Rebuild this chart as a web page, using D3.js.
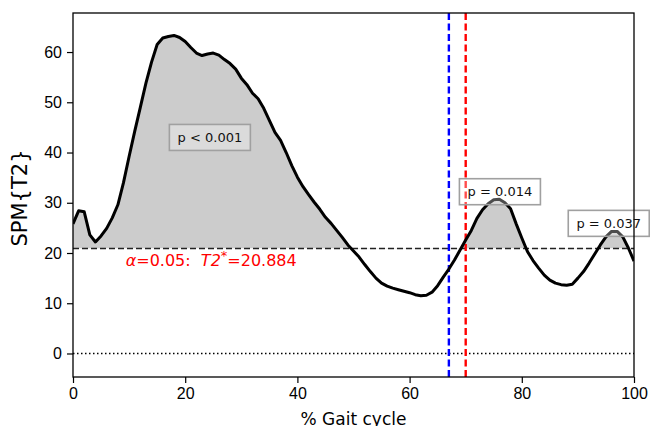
<!DOCTYPE html>
<html>
<head>
<meta charset="utf-8">
<script src="https://cdn.jsdelivr.net/npm/d3@7"></script>
<style>
  body { margin: 0; background: #fff; }
  svg { font-family: "DejaVu Sans", sans-serif; }
  .tick text { font-size: 16px; fill: #000; }
  .tick line { stroke: #000; stroke-width: 1.2; }
</style>
</head>
<body>
<svg class="svg-main" width="650" height="426"></svg>
<script>
// % gait cycle, 0..100 in steps of 1
const gait = d3.range(0, 101);
// SPM{T2} trajectory
const spmT2 = [
  25.8, 28.4, 28.2, 23.6, 22.2, 23.4, 24.9, 27.0, 29.6, 34.0,
  39.2, 44.2, 49.0, 53.8, 58.0, 61.5, 62.8, 63.1, 63.3, 62.9,
  62.1, 60.9, 59.8, 59.3, 59.6, 59.8, 59.4, 58.5, 57.7, 56.6,
  54.8, 53.5, 51.8, 50.7, 48.8, 46.4, 44.0, 42.4, 40.0, 37.4,
  35.1, 33.2, 31.6, 30.1, 28.7, 27.1, 25.9, 24.5, 23.1, 21.6,
  20.4, 19.2, 17.7, 16.3, 15.0, 14.0, 13.4, 13.0, 12.7, 12.4,
  12.1, 11.7, 11.5, 11.6, 12.2, 13.5, 15.2, 16.8, 18.6, 20.6,
  22.6, 24.5, 26.9, 28.6, 29.8, 30.6, 30.7, 30.0, 28.8, 25.8,
  23.0, 20.3, 18.5, 17.0, 15.6, 14.6, 14.0, 13.7, 13.6, 13.8,
  15.0, 16.3, 18.0, 19.8, 21.6, 23.2, 24.3, 24.3, 23.2, 21.0,
  18.4
];
const threshold = 20.884;
const alpha = 0.05;

// cluster p-values and where their labels sit (data units)
const clusterP = ["p < 0.001", "p = 0.014", "p = 0.037"];
const clusterX = [24.4, 76.1, 95.5];
const clusterY = [43.0, 32.2, 25.9];

// vertical event markers
const eventX = [67, 70];
const eventColor = ["#0000ff", "#ff0000"];

const xTicks = [0, 20, 40, 60, 80, 100];
const yTicks = [0, 10, 20, 30, 40, 50, 60];

const svg = d3.select(".svg-main");
const margin = { left: 73, right: 634, top: 13, bottom: 377 };

const x = d3.scaleLinear().domain([0, 100]).range([margin.left, margin.right]);
const y = d3.scaleLinear().domain([-4.68, 67.77]).range([margin.bottom, margin.top]);

const pts = gait.map((g, i) => ({ g: g, v: spmT2[i] }));

// clip so the fill only shows above the threshold
const defs = svg.append("defs");
defs.append("clipPath").attr("id", "above")
  .append("rect")
  .attr("x", margin.left).attr("y", margin.top)
  .attr("width", margin.right - margin.left)
  .attr("height", y(threshold) - margin.top);
defs.append("clipPath").attr("id", "plot")
  .append("rect")
  .attr("x", margin.left).attr("y", margin.top)
  .attr("width", margin.right - margin.left)
  .attr("height", margin.bottom - margin.top);

const area = d3.area()
  .x(d => x(d.g))
  .y0(y(threshold))
  .y1(d => y(d.v));

svg.append("path")
  .datum(pts)
  .attr("clip-path", "url(#above)")
  .attr("fill", "#cccccc")
  .attr("d", area);

// zero line
svg.append("line")
  .attr("x1", x(0)).attr("x2", x(100))
  .attr("y1", y(0)).attr("y2", y(0))
  .attr("stroke", "#000").attr("stroke-width", 1.5)
  .attr("stroke-dasharray", "1.5,2.5");

// threshold line
svg.append("line")
  .attr("x1", x(0)).attr("x2", x(100))
  .attr("y1", y(threshold)).attr("y2", y(threshold))
  .attr("stroke", "#222").attr("stroke-width", 1.6)
  .attr("stroke-dasharray", "6,3");

// event lines
svg.selectAll(".event")
  .data(eventX)
  .enter().append("line")
    .attr("class", "event")
    .attr("x1", d => x(d)).attr("x2", d => x(d))
    .attr("y1", margin.top).attr("y2", margin.bottom)
    .attr("stroke", (d, i) => eventColor[i])
    .attr("stroke-width", 2.4)
    .attr("stroke-dasharray", "7,3.5");

// SPM curve
const line = d3.line().x(d => x(d.g)).y(d => y(d.v));
svg.append("path")
  .datum(pts)
  .attr("clip-path", "url(#plot)")
  .attr("fill", "none")
  .attr("stroke", "#000")
  .attr("stroke-width", 3)
  .attr("stroke-linejoin", "round")
  .attr("d", line);

// threshold label
const thrText = svg.append("text")
  .attr("x", x(9.4))
  .attr("y", y(threshold) + 17)
  .attr("fill", "#ff0000")
  .attr("font-size", 16)
  .style("white-space", "pre");
thrText.append("tspan").attr("font-style", "italic").text("\u03b1");
thrText.append("tspan").text("=" + alpha.toFixed(2) + ":  ");
thrText.append("tspan").attr("font-style", "italic").text("T2");
thrText.append("tspan").attr("font-size", 13).attr("dy", -6).text("*");
thrText.append("tspan").attr("dy", 6).text("=" + threshold.toFixed(3));

// cluster p-value boxes
const labels = svg.append("g").attr("class", "labels")
  .selectAll("g")
  .data(clusterP)
  .enter().append("g")
    .attr("transform", (d, i) => `translate(${x(clusterX[i])},${y(clusterY[i])})`);

labels.append("rect")
  .attr("x", -40.5).attr("y", -13)
  .attr("width", 81).attr("height", 26)
  .attr("fill", "#fff").attr("fill-opacity", 0.3)
  .attr("stroke", "#a0a0a0").attr("stroke-width", 1.6);

labels.append("text")
  .attr("text-anchor", "middle")
  .attr("dy", "0.36em")
  .attr("font-size", 13)
  .attr("fill", "#111")
  .text(d => d);

// axes
const yAxis = svg.append("g")
  .attr("transform", `translate(${margin.left},0)`)
  .call(d3.axisLeft(y).tickValues(yTicks).tickSize(6).tickPadding(5).tickFormat(d3.format("d")));
yAxis.select(".domain").remove();

const xAxis = svg.append("g")
  .attr("transform", `translate(0,${margin.bottom})`)
  .call(d3.axisBottom(x).tickValues(xTicks).tickSize(6).tickPadding(5).tickFormat(d3.format("d")));
xAxis.select(".domain").remove();

// spines
svg.append("rect")
  .attr("x", margin.left).attr("y", margin.top)
  .attr("width", margin.right - margin.left)
  .attr("height", margin.bottom - margin.top)
  .attr("fill", "none")
  .attr("stroke", "#000").attr("stroke-width", 1.3);

// axis titles
svg.append("text")
  .attr("transform", `translate(27,${(margin.top + margin.bottom) / 2 + 3}) rotate(-90)`)
  .attr("text-anchor", "middle")
  .attr("font-size", 21)
  .text("SPM{T2}");

svg.append("text")
  .attr("x", (margin.left + margin.right) / 2)
  .attr("y", 425)
  .attr("text-anchor", "middle")
  .attr("font-size", 17)
  .text("% Gait cycle");
</script>
</body>
</html>
